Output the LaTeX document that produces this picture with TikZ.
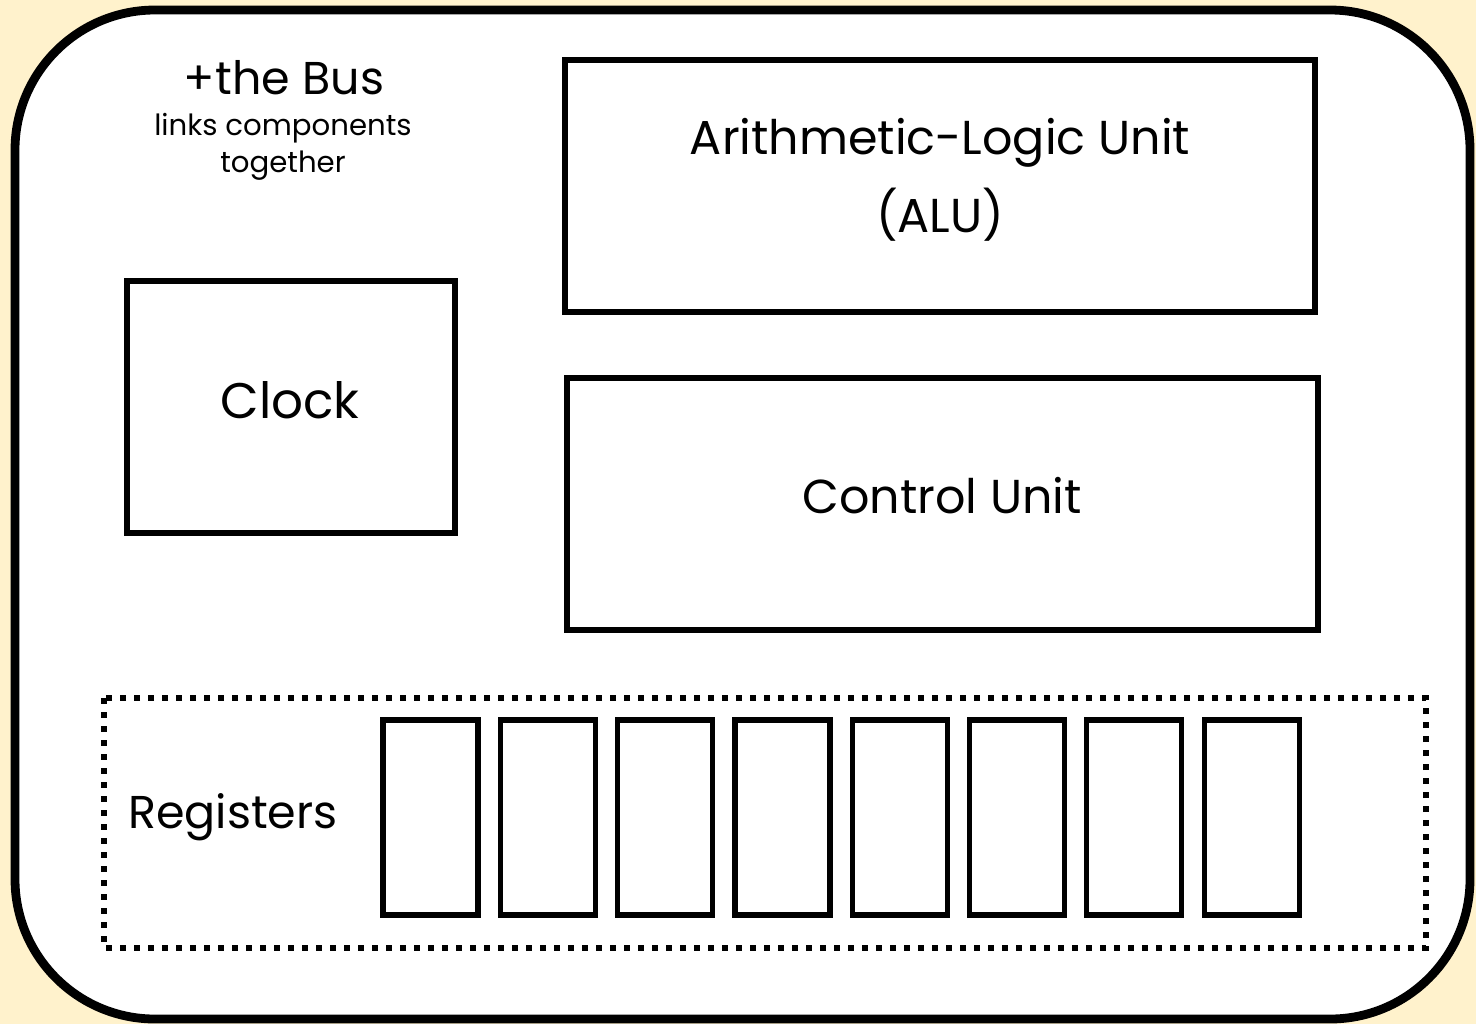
\documentclass[tikz,border=0pt]{standalone}
\usepackage{fontspec}
\setmainfont{Poppins}
\begin{document}
\begin{tikzpicture}[x=0.5pt,y=-0.5pt,
  box/.style={draw=black,line width=2.6pt,minimum width=#1,inner sep=0pt,align=center},
  big/.style={font=\fontsize{23.8}{39}\selectfont},
  regbox/.style={draw=black,line width=2.6pt,minimum width=47.5pt,minimum height=97.5pt,inner sep=0pt}]
\fill[fill={rgb,255:red,255;green,242;blue,204}] (0,0) rectangle (1476,1024);
\useasboundingbox (0,0) rectangle (1476,1024);
\draw[line width=4.4pt,fill=white,rounded corners=70pt] (15,10) rectangle (1470,1019);
\node[inner sep=0pt,font=\fontsize{23}{27}\selectfont] (bus) at (284,78) {+the Bus};
\node[inner sep=0pt,align=center,font=\fontsize{14.6}{18.5}\selectfont] (busdesc) at (283,147) {links components\\together};
\node[box=375pt,minimum height=126pt] (alu) at (940,186) {};
\node[big,inner sep=0pt,align=center] (alulbl) at (940,180) {Arithmetic-Logic Unit\\(ALU)};
\node[box=164pt,minimum height=126pt] (clock) at (291,407) {};
\node[font=\fontsize{25}{30}\selectfont,inner sep=0pt] (clocklbl) at (290,400) {Clock};
\node[box=375.5pt,minimum height=126pt] (cu) at (942.5,504) {};
\node[big,inner sep=0pt] (culbl) at (942,496) {Control Unit};
\draw[line width=3pt,dash pattern=on 3pt off 4pt] (104,698) rectangle (1426,948);
\node[font=\fontsize{23}{28}\selectfont,inner sep=0pt] (reglbl) at (233,817) {Registers};
\foreach \i in {0,...,7}{
  \node[regbox] (r\i) at (430.5+\i*117.3,817.5) {};
}
\end{tikzpicture}
\end{document}
